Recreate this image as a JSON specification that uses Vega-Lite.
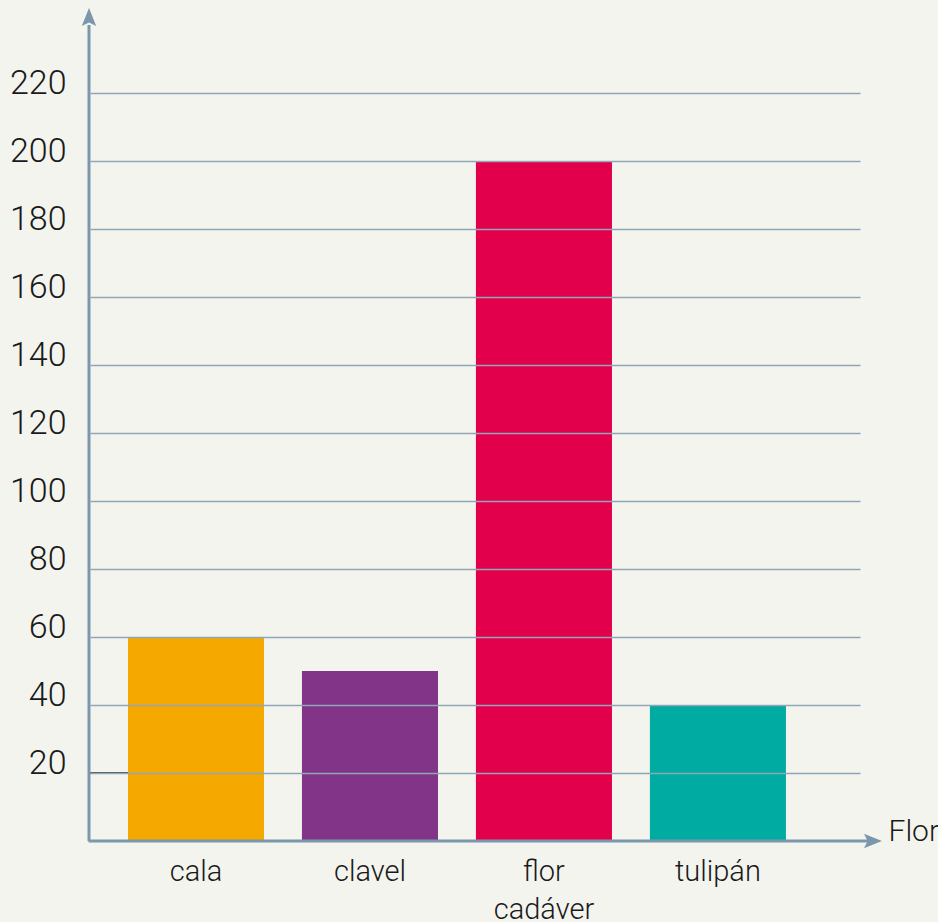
{
  "$schema": "https://vega.github.io/schema/vega-lite/v6.json",
  "autosize": "none",
  "width": 770,
  "height": 833,
  "padding": {"left": 90, "top": 8, "right": 78, "bottom": 81},
  "background": "#f4f4ef",
  "config": {
    "view": {"stroke": null},
    "font": "Roboto"
  },
  "datasets": {
    "flores": [
      {"flor": "cala", "valor": 60},
      {"flor": "clavel", "valor": 50},
      {"flor": "flor cadáver", "valor": 200},
      {"flor": "tulipán", "valor": 40}
    ],
    "uno": [{}]
  },
  "layer": [
    {
      "data": {"name": "flores"},
      "mark": {"type": "bar"},
      "encoding": {
        "x": {
          "field": "flor",
          "type": "nominal",
          "sort": null,
          "scale": {"paddingInner": 0.218, "paddingOuter": 0.322, "align": 0.339},
          "axis": {
            "title": "Flor",
            "titleX": 798,
            "titleY": -1,
            "titleAlign": "left",
            "titleBaseline": "alphabetic",
            "titleFontSize": 30,
            "titleFontWeight": 300,
            "titleColor": "#1a1a1a",
            "titleFont": "Roboto",
            "labelAngle": 0,
            "labelFont": "Roboto",
            "labelFontSize": 29,
            "labelFontWeight": 300,
            "labelColor": "#1a1a1a",
            "labelLineHeight": 38,
            "labelBaseline": "alphabetic",
            "labelPadding": 39,
            "labelExpr": "split(datum.label, ' ')",
            "ticks": false,
            "tickSize": 0,
            "domain": false,
            "grid": false
          }
        },
        "y": {
          "field": "valor",
          "type": "quantitative",
          "scale": {"domain": [0, 245], "nice": false},
          "axis": {
            "title": null,
            "values": [20, 40, 60, 80, 100, 120, 140, 160, 180, 200, 220],
            "labelFont": "Roboto",
            "labelFontSize": 34,
            "labelFontWeight": 300,
            "labelColor": "#1a1a1a",
            "labelBaseline": "alphabetic",
            "labelPadding": 24,
            "ticks": false,
            "tickSize": 0,
            "domain": false,
            "grid": true,
            "gridColor": "#8fa6b6",
            "gridWidth": 1.5,
            "zindex": 1
          }
        },
        "color": {
          "field": "flor",
          "type": "nominal",
          "sort": null,
          "scale": {
            "domain": ["cala", "clavel", "flor cadáver", "tulipán"],
            "range": ["#f5a800", "#823588", "#e2004d", "#00aba1"]
          },
          "legend": null
        }
      }
    },
    {
      "data": {"name": "uno"},
      "mark": {"type": "rule", "color": "#1a1a1a", "strokeWidth": 1.5},
      "encoding": {
        "x": {"datum": 0, "type": "quantitative", "scale": {"domain": [0, 770], "nice": false, "zero": false}, "axis": null},
        "x2": {"datum": 38},
        "y": {"datum": 20, "type": "quantitative"}
      }
    },
    {
      "data": {"name": "uno"},
      "mark": {"type": "rule", "color": "#7b97ab", "strokeWidth": 3},
      "encoding": {
        "x": {"datum": -1.5, "type": "quantitative", "scale": {"domain": [0, 770], "nice": false, "zero": false}, "axis": null},
        "x2": {"datum": 784},
        "y": {"datum": 0, "type": "quantitative"}
      }
    },
    {
      "data": {"name": "uno"},
      "mark": {"type": "rule", "color": "#7b97ab", "strokeWidth": 3},
      "encoding": {
        "x": {"datum": -1, "type": "quantitative", "scale": {"domain": [0, 770], "nice": false, "zero": false}, "axis": null},
        "y": {"datum": 0, "type": "quantitative"},
        "y2": {"datum": 240}
      }
    },
    {
      "data": {"name": "uno"},
      "mark": {"type": "point", "filled": true, "opacity": 1, "color": "#7b97ab", "size": 324, "shape": "M0,0L0.8,2L0,1.6L-0.8,2Z"},
      "encoding": {
        "x": {"datum": -1, "type": "quantitative", "scale": {"domain": [0, 770], "nice": false, "zero": false}, "axis": null},
        "y": {"datum": 245, "type": "quantitative"}
      }
    },
    {
      "data": {"name": "uno"},
      "mark": {"type": "point", "filled": true, "opacity": 1, "color": "#7b97ab", "size": 324, "shape": "M0,0L-2,-0.8L-1.6,0L-2,0.8Z"},
      "encoding": {
        "x": {"datum": 792, "type": "quantitative", "scale": {"domain": [0, 770], "nice": false, "zero": false}, "axis": null},
        "y": {"datum": 0, "type": "quantitative"}
      }
    }
  ],
  "resolve": {"scale": {"x": "independent"}}
}
